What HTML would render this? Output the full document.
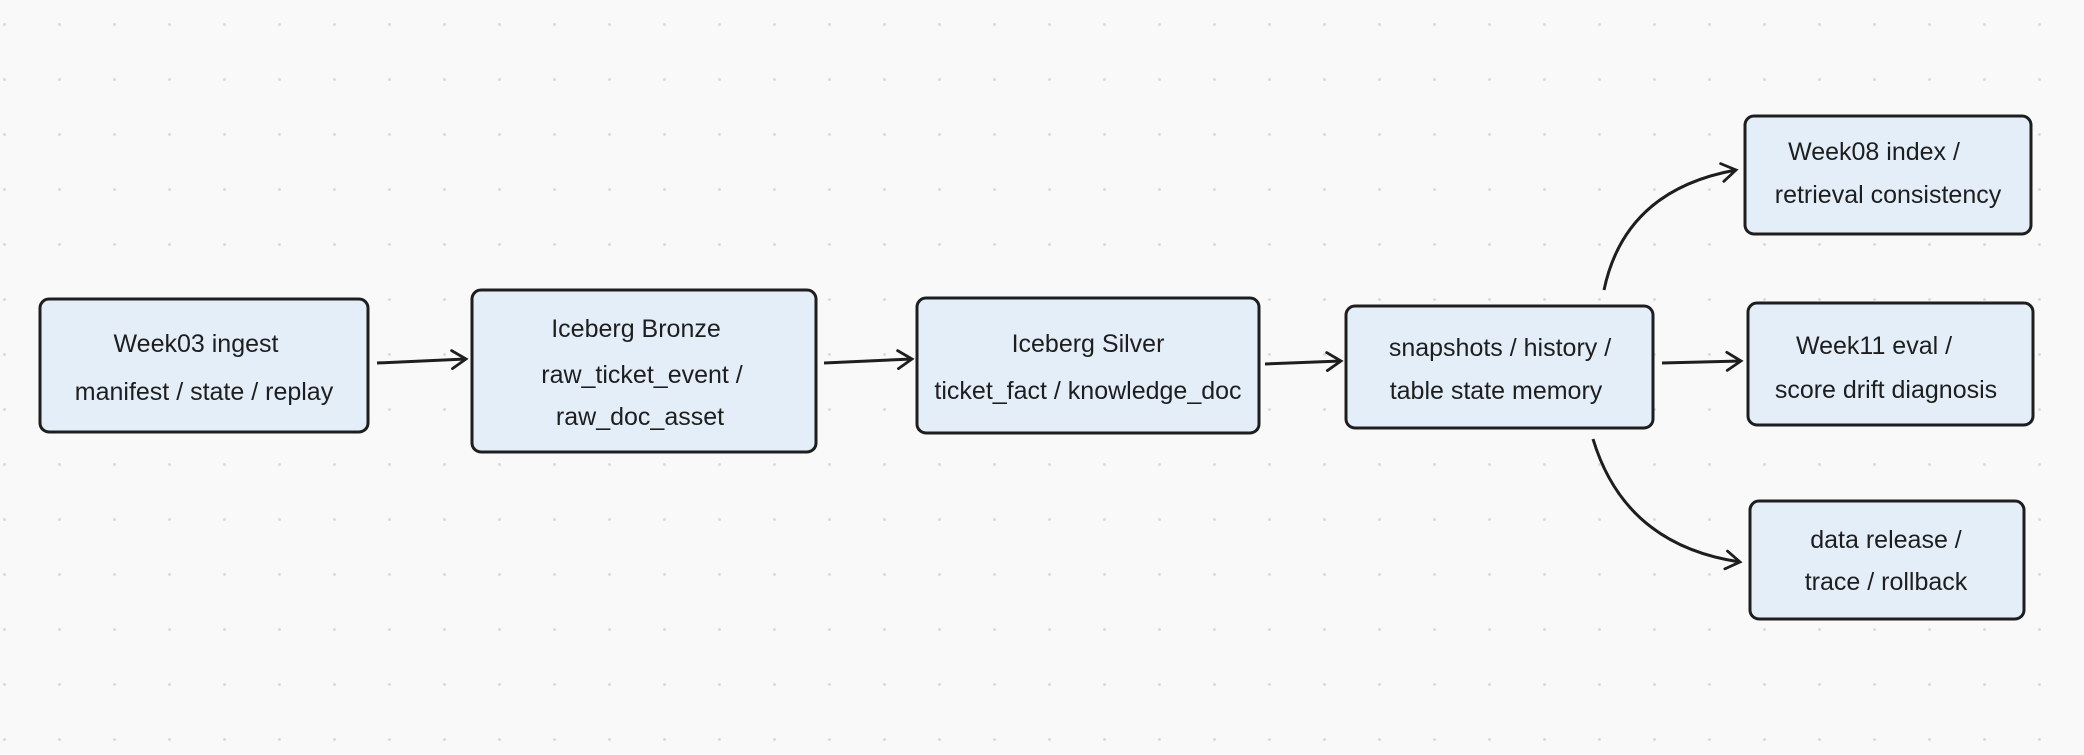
<!DOCTYPE html>
<html><head><meta charset="utf-8"><style>
html,body{margin:0;padding:0;width:2084px;height:755px;overflow:hidden;background:#f9f9f9;}
svg{display:block}
text{font-family:"Liberation Sans Narrow","Liberation Sans",sans-serif;font-size:25px;fill:#1e1e1e;text-anchor:middle;}
</style></head><body>
<svg width="2084" height="755" xmlns="http://www.w3.org/2000/svg">
<defs>
<pattern id="dots" x="3" y="23" width="55" height="55" patternUnits="userSpaceOnUse">
<circle cx="1.5" cy="1.5" r="1.5" fill="#dcdcdc"/></pattern>
<marker id="ah" markerWidth="24" markerHeight="24" refX="20" refY="12" orient="auto" markerUnits="userSpaceOnUse">
<path d="M6 3 L20 12 L6 21" fill="none" stroke="#1e1e1e" stroke-width="2.8" stroke-linecap="round"/></marker>
</defs>
<rect width="2084" height="755" fill="url(#dots)"/>
<g fill="#e3eef9" stroke="#1e1e1e" stroke-width="3">
<rect x="40" y="299" width="328" height="133" rx="9"/>
<rect x="472" y="290" width="344" height="162" rx="9"/>
<rect x="917" y="298" width="342" height="135" rx="9"/>
<rect x="1346" y="306" width="307" height="122" rx="9"/>
<rect x="1745" y="116" width="286" height="118" rx="9"/>
<rect x="1748" y="303" width="285" height="122" rx="9"/>
<rect x="1750" y="501" width="274" height="118" rx="9"/>
</g>
<g fill="none" stroke="#1e1e1e" stroke-width="3" marker-end="url(#ah)">
<path d="M377 363 L466 359"/>
<path d="M824 363 L912 359"/>
<path d="M1265 364 L1341 361"/>
<path d="M1662 363 L1741 361"/>
<path d="M1604 290 Q1625 190 1736 170"/>
<path d="M1593 439 Q1625 545 1740 562"/>
</g>
<text x="196" y="352">Week03 ingest</text>
<text x="204" y="400">manifest / state / replay</text>
<text x="636" y="337">Iceberg Bronze</text>
<text x="642" y="383">raw_ticket_event /</text>
<text x="640" y="425">raw_doc_asset</text>
<text x="1088" y="352">Iceberg Silver</text>
<text x="1088" y="399">ticket_fact / knowledge_doc</text>
<text x="1500" y="356">snapshots / history /</text>
<text x="1496" y="399">table state memory</text>
<text x="1874" y="160">Week08 index /</text>
<text x="1888" y="203">retrieval consistency</text>
<text x="1874" y="354">Week11 eval /</text>
<text x="1886" y="398">score drift diagnosis</text>
<text x="1886" y="548">data release /</text>
<text x="1886" y="590">trace / rollback</text>
</svg>
</body></html>
